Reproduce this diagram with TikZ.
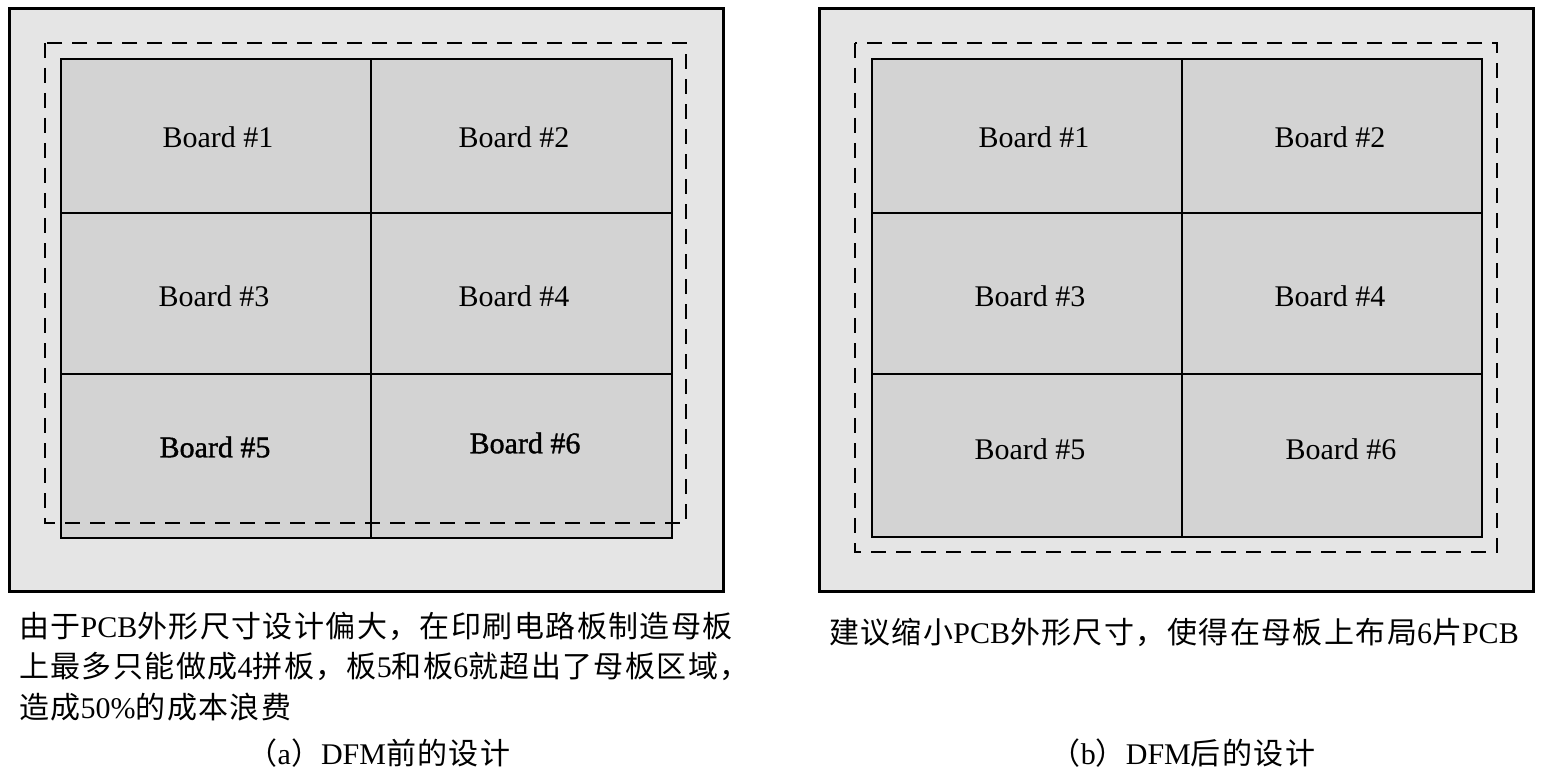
\documentclass[tikz,border=0pt]{standalone}
\usepackage{fontspec}
\setmainfont{Liberation Serif}
\newfontfamily\cjk[LetterSpace=4.7]{Noto Sans CJK SC}
\newfontfamily\fbold[FakeBold=1.2]{Liberation Serif}
\definecolor{outerfill}{HTML}{E5E5E5}
\definecolor{cellfill}{HTML}{D3D3D3}
\begin{document}
\begin{tikzpicture}[x=1pt,y=-1pt,
  panel/.style={draw=black,line width=3pt,fill=outerfill},
  grid/.style={draw=black,line width=2.5pt,fill=cellfill},
  gridline/.style={draw=black,line width=2.5pt},
  limit/.style={draw=black,line width=2pt,dash pattern=on 15pt off 10pt},
  lbl/.style={font=\fontsize{30}{36}\selectfont,inner sep=0pt},
  blbl/.style={font=\fontsize{30}{36}\selectfont\fbold,inner sep=0pt},
  txt/.style={font=\fontsize{30}{39}\selectfont,inner sep=0pt,anchor=base west},
  captxt/.style={font=\fontsize{30}{39}\selectfont,inner sep=0pt,anchor=base}]
\useasboundingbox (0,0) rectangle (1543,781);
% ---------- left panel ----------
\draw[panel] (9,9) rectangle (723,591);
\draw[grid] (61,59) rectangle (672,538);
\draw[gridline] (371,59) -- (371,538);
\draw[gridline] (61,213) -- (672,213);
\draw[gridline] (61,374) -- (672,374);
\draw[limit] (45,43) rectangle (686,523);
\node[lbl] (a1) at (218,137) {Board \#1};
\node[lbl] (a2) at (514,137) {Board \#2};
\node[lbl] (a3) at (214,296) {Board \#3};
\node[lbl] (a4) at (514,296) {Board \#4};
\node[blbl] (a5) at (215,447) {Board \#5};
\node[blbl] (a6) at (525,443) {Board \#6};
% ---------- right panel ----------
\draw[panel] (819,9) rectangle (1533,591);
\draw[grid] (872,59) rectangle (1482,537);
\draw[gridline] (1182,59) -- (1182,537);
\draw[gridline] (872,213) -- (1482,213);
\draw[gridline] (872,374) -- (1482,374);
\draw[limit] (855,43) rectangle (1497,552);
\node[lbl] (b1) at (1034,137) {Board \#1};
\node[lbl] (b2) at (1330,137) {Board \#2};
\node[lbl] (b3) at (1030,296) {Board \#3};
\node[lbl] (b4) at (1330,296) {Board \#4};
\node[lbl] (b5) at (1030,449) {Board \#5};
\node[lbl] (b6) at (1341,449) {Board \#6};
% ---------- texts ----------
\node[txt] (ta1) at (19,637) {{\cjk 由于}PCB{\cjk 外形尺寸设计偏大，在印刷电路板制造母板}};
\node[txt] (ta2) at (19,677) {{\cjk 上最多只能做成}4{\cjk 拼板，板}5{\cjk 和板}6{\cjk 就超出了母板区域，}};
\node[txt] (ta3) at (19,718) {{\cjk 造成}50\%{\cjk 的成本浪费}};
\node[captxt] (ca) at (379,764) {{\cjk （}a{\cjk ）}DFM{\cjk 前的设计}};
\node[txt] (tb1) at (829,643) {{\cjk 建议缩小}PCB{\cjk 外形尺寸，使得在母板上布局}6{\cjk 片}PCB};
\node[captxt] (cb) at (1183,764) {{\cjk （}b{\cjk ）}DFM{\cjk 后的设计}};
\end{tikzpicture}
\end{document}
